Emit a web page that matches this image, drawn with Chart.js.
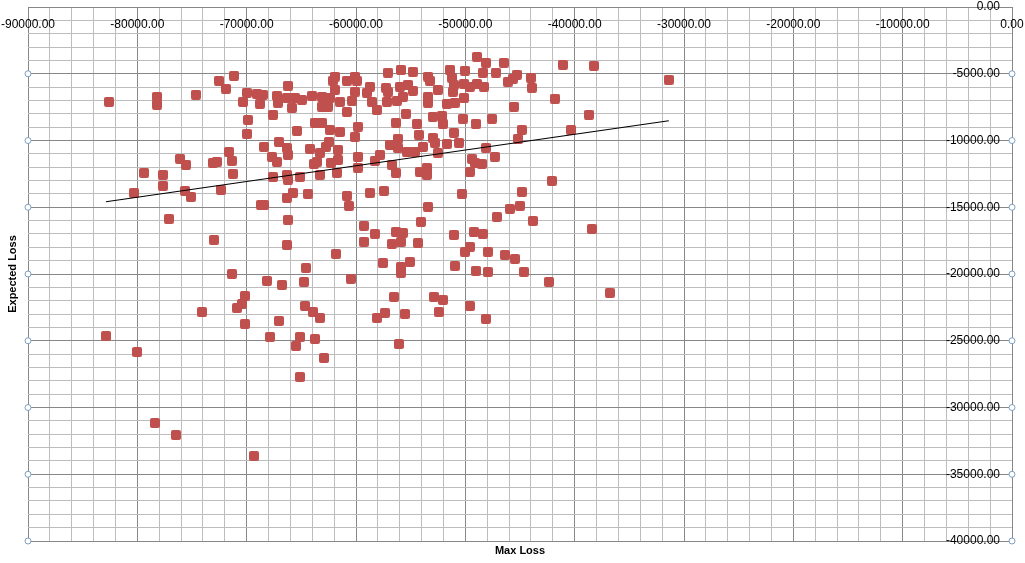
<!DOCTYPE html>
<html>
<head>
<meta charset="utf-8">
<script src="https://cdn.jsdelivr.net/npm/chart.js@4.4.1/dist/chart.umd.min.js"></script>
<style>
html, body { margin: 0; padding: 0; background: #fff; }
#wrap { width: 1025px; height: 563px; }
</style>
</head>
<body>
<div id="wrap"><canvas id="grafica" width="1025" height="563"></canvas></div>
<script>
// ======================
// DATOS
// ======================
const maxLoss = [
    -82590, -78200, -78200, -74640, -72540, -71160, -71900, -76100, -75550, -79390,
    -77660, -77660, -80310, -75640, -75100, -73080, -72720, -71620, -71350, -71260,
    -72350, -77110, -72990, -82870, -80030, -78390, -76470, -69340, -68690, -68420,
    -66320, -65770, -64400, -60830, -60650, -58730, -66230, -66320, -59280, -58270,
    -59280, -61840, -57540, -71350, -68150, -66770, -64580, -64760, -60470, -70160,
    -70430, -70890, -74090, -70160, -67050, -64670, -63940, -63300, -58090, -57360,
    -67870, -65130, -65490, -63760, -62930, -65130, -57450, -50320, -44830, -53420,
    -54060, -56350, -55710, -56720, -55890, -54340, -51050, -49220, -48400, -49580,
    -50040, -47940, -47120, -45930, -45010, -43820, -46380, -45470, -55070, -55890,
    -55890, -50960, -49040, -47940, -44650, -42360, -56530, -52880, -52050, -49580,
    -52420, -55530, -48120, -56080, -41080, -38250, -31390, -41810, -38700, -40350,
    -42090, -38430, -36780, -48940, -48120, -46480, -47210, -48400, -50040, -51410,
    -51230, -55890, -54800, -53420, -53240, -51050, -51140, -50130, -49580, -48940,
    -48300, -45290, -45650, -46110, -44010, -43910, -55980, -55250, -54800, -56260,
    -55710, -53420, -53420, -52510, -50130, -51690, -50960, -45560, -55440, -52970,
    -52140, -52050, -50220, -49040, -47570, -54430, -56350, -44830, -45190, -51050,
    -50590, -51690, -52970, -52780, -54250, -53880, -56170, -56170, -55340, -54610,
    -52510, -48120, -47300, -49400, -49130, -48490, -49580, -56350, -54160, -53520,
    -53520, -57080, -61930, -62110, -60830, -60100, -59920, -61930, -60100, -58730,
    -59000, -57260, -57080, -57170, -66230, -69980, -69060, -68510, -68790, -70340,
    -67230, -67140, -66320, -65860, -65590, -64950, -64030, -63120, -63120, -62570,
    -62390, -61470, -60830, -60370, -58550, -58090, -69880, -69980, -67600, -65400,
    -63760, -63120, -62390, -61470, -59830, -60100, -56900, -68420, -67050, -66320,
    -66230, -67690, -67230, -64210, -63300, -63570, -63850, -62750, -62480, -61650,
    -61650, -62290, -59830, -59830, -57810, -58270, -56720, -67600, -66320, -66230,
    -65130, -63300, -61750
];
const expectedLoss = [
    -7100, -6720, -7320, -6570, -5520, -5150, -6120, -11370, -11820, -12420,
    -12570, -13390, -13920, -13770, -14220, -11670, -11600, -10850, -11520, -12490,
    -13690, -15870, -17440, -24640, -25840, -31160, -32060, -33630, -14820, -14820,
    -14290, -13920, -13990, -14140, -14890, -13920, -15940, -17820, -16390, -16990,
    -17590, -18490, -19170, -19990, -20510, -20810, -19540, -20590, -20360, -21640,
    -22240, -22540, -22840, -23740, -23510, -22390, -22840, -23290, -23290, -22910,
    -24710, -24710, -25390, -24860, -26290, -27710, -13770, -13990, -13840, -14970,
    -16090, -16840, -16920, -17740, -17590, -17670, -17070, -16840, -16990, -17970,
    -18340, -18340, -15720, -15120, -14890, -16020, -18570, -18870, -19090, -19470,
    -19910, -19390, -19760, -19840, -19840, -20590, -21710, -21710, -21940, -22390,
    -22840, -22990, -23360, -25240, -4330, -4400, -5450, -6870, -8070, -9200,
    -13020, -16620, -21410, -3730, -4180, -4180, -4920, -4920, -4770, -4700,
    -5300, -4700, -4850, -5220, -5520, -5820, -6350, -5750, -5970, -5750,
    -5970, -5070, -5370, -5600, -5300, -6050, -5970, -5820, -6270, -7020,
    -6720, -6720, -7170, -6200, -6800, -7250, -7170, -7470, -8000, -8220,
    -8150, -8750, -8370, -8750, -8370, -8750, -8670, -9200, -9870, -9420,
    -10170, -10250, -9800, -10170, -9570, -10470, -9870, -10550, -10850, -10850,
    -10920, -10550, -11220, -11370, -11670, -11750, -12340, -12420, -12340, -12040,
    -12570, -4920, -5220, -5520, -5520, -5220, -5520, -6200, -6350, -5970,
    -6420, -6050, -6350, -7100, -5900, -6420, -6500, -6570, -7250, -7100,
    -6650, -7170, -6800, -7550, -6800, -6950, -6650, -6720, -7470, -7470,
    -6800, -7100, -7850, -7020, -7100, -7700, -8450, -9500, -8070, -9270,
    -8670, -8670, -9200, -9350, -8970, -9720, -10320, -10470, -10100, -10550,
    -11070, -11220, -11600, -10620, -10920, -11600, -11750, -10470, -10100, -10700,
    -11450, -11670, -11220, -12040, -11070, -11520, -11820, -12720, -12570, -12940,
    -12720, -12570, -12420
];

// linea de tendencia (extremos)
const trendX = [-82870, -31390];
const trendY = [-14590, -8520];

// etiquetas de los ejes
const xLabels = [-90000, -80000, -70000, -60000, -50000, -40000, -30000, -20000, -10000, 0];
const yLabels = [0, -5000, -10000, -15000, -20000, -25000, -30000, -35000, -40000];

// marcas circulares en los bordes
const markX = [-90000, 0];
const markY = [-5000, -10000, -15000, -20000, -25000, -30000, -35000, -40000];

const FUENTE = '"Liberation Sans", Arial, sans-serif';

function formato(v) {
    return (v === 0 ? 0 : v).toFixed(2);
}

// cuadrado con esquinas apenas redondeadas
function marcador() {
    const c = document.createElement("canvas");
    c.width = 10;
    c.height = 10;
    const g = c.getContext("2d");
    g.fillStyle = "#c0504d";
    g.beginPath();
    if (g.roundRect) g.roundRect(0, 0, 10, 10, 2);
    else g.rect(0, 0, 10, 10);
    g.fill();
    return c;
}

// ======================
// ETIQUETAS DENTRO DEL AREA
// ======================
const etiquetas = {
    id: "etiquetas",
    afterDraw(chart) {
        const { ctx, chartArea, scales } = chart;
        ctx.save();
        ctx.font = "12px " + FUENTE;
        ctx.fillStyle = "#000";
        ctx.textBaseline = "middle";
        ctx.textAlign = "center";
        xLabels.forEach(v => {
            ctx.fillText(formato(v), scales.x.getPixelForValue(v), chartArea.top + 18);
        });
        ctx.textAlign = "right";
        yLabels.forEach(v => {
            ctx.fillText(formato(v), chartArea.right - 12, scales.y.getPixelForValue(v));
        });
        ctx.restore();
    }
};

// ======================
// GRAFICA
// ======================
const puntos = maxLoss.map((x, i) => ({ x: x, y: expectedLoss[i] }));
const tendencia = trendX.map((x, i) => ({ x: x, y: trendY[i] }));
const marcas = [];
markY.forEach(y => markX.forEach(x => marcas.push({ x: x, y: y })));

const ctx = document.getElementById("grafica").getContext("2d");

new Chart(ctx, {
    type: "scatter",
    data: {
        datasets: [
            {
                label: "Tendencia",
                data: tendencia,
                showLine: true,
                borderColor: "#000",
                borderWidth: 1.2,
                pointRadius: 0,
                fill: false,
                xAxisID: "x",
                yAxisID: "y"
            },
            {
                label: "Marcas",
                data: marcas,
                pointStyle: "circle",
                pointRadius: 3,
                borderColor: "#7c9fc2",
                backgroundColor: "#fff",
                borderWidth: 1,
                clip: false,
                xAxisID: "x",
                yAxisID: "y"
            },
            {
                label: "Expected Loss",
                data: puntos,
                pointStyle: marcador(),
                pointRadius: 5,
                backgroundColor: "#c0504d",
                borderColor: "#c0504d",
                xAxisID: "x",
                yAxisID: "y"
            }
        ]
    },
    options: {
        responsive: false,
        animation: false,
        devicePixelRatio: 1,
        layout: { padding: { left: 0, right: 13, top: 7, bottom: 0 } },
        plugins: {
            legend: { display: false },
            tooltip: { enabled: false }
        },
        scales: {
            x: {
                type: "linear",
                position: "top",
                min: -90000,
                max: 0,
                ticks: { display: false, stepSize: 2000, maxTicksLimit: 100 },
                grid: {
                    drawTicks: false,
                    lineWidth: 1,
                    color: c => (c.tick && c.tick.value % 10000 === 0) ? "#878787" : "#bdbdbd"
                },
                border: { display: true, color: "#878787" }
            },
            y: {
                type: "linear",
                position: "right",
                min: -40000,
                max: 0,
                ticks: { display: false, stepSize: 1000, maxTicksLimit: 100 },
                grid: {
                    drawTicks: false,
                    lineWidth: 1,
                    color: c => (c.tick && c.tick.value % 5000 === 0) ? "#878787" : "#bdbdbd"
                },
                border: { display: true, color: "#878787" }
            },
            xTitle: {
                type: "linear",
                position: "bottom",
                ticks: { display: false },
                grid: { display: false, drawTicks: false },
                border: { display: false },
                title: {
                    display: true,
                    text: "Max Loss",
                    color: "#000",
                    font: { family: FUENTE, size: 11, weight: "bold" },
                    padding: { top: 3.4, bottom: 5.4 }
                }
            },
            yTitle: {
                type: "linear",
                position: "left",
                ticks: { display: false },
                grid: { display: false, drawTicks: false },
                border: { display: false },
                title: {
                    display: true,
                    text: "Expected Loss",
                    color: "#000",
                    font: { family: FUENTE, size: 11, weight: "bold" },
                    padding: { top: 6.4, bottom: 8.4 }
                }
            }
        }
    },
    plugins: [etiquetas]
});
</script>
</body>
</html>
